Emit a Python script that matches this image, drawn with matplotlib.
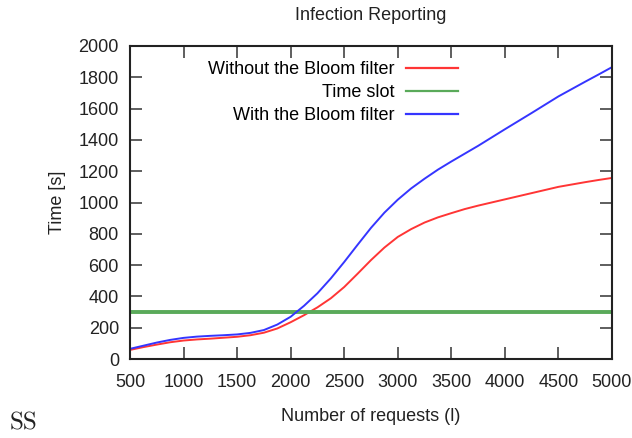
import matplotlib

matplotlib.use("Agg")
import matplotlib.pyplot as plt

# number of requests (l)
requests = [500, 625, 750, 875, 1000, 1125, 1250, 1375, 1500, 1625,
            1750, 1875, 2000, 2125, 2250, 2375, 2500, 2625, 2750, 2875,
            3000, 3125, 3250, 3375, 3500, 3625, 3750, 3875, 4000, 4125,
            4250, 4375, 4500, 4625, 4750, 4875, 5000]

# time [s]
without_bloom = [58, 76, 92, 107, 118, 125, 130, 136, 142, 152,
                 168, 195, 235, 280, 330, 388, 460, 545, 632, 712,
                 780, 830, 872, 905, 932, 958, 980, 1000, 1020, 1040,
                 1060, 1080, 1100, 1115, 1130, 1144, 1157]
with_bloom = [65, 85, 105, 122, 135, 143, 148, 152, 157, 167,
              185, 220, 270, 340, 420, 515, 620, 730, 838, 935,
              1018, 1090, 1152, 1210, 1262, 1312, 1362, 1415, 1468, 1520,
              1572, 1625, 1678, 1725, 1772, 1818, 1865]
time_slot = 300

plt.rcParams["font.family"] = ["Liberation Sans", "DejaVu Sans"]
plt.rcParams["font.size"] = 13

fig = plt.figure(figsize=(6.32, 4.38), dpi=100)
ax = fig.add_axes([130 / 632, 1 - 359 / 438, 482 / 632, 313 / 438])

ax.plot(requests, without_bloom, color="#ff3535", lw=1.4, label="Without the Bloom filter")
ax.axhline(time_slot, color="#5aaa5a", lw=2.8, label="Time slot")
ax.plot(requests, with_bloom, color="#3535ff", lw=1.4, label="With the Bloom filter")

ax.set_xlim(500, 5000)
ax.set_ylim(0, 2000)
ax.set_xticks(range(500, 5001, 500))
ax.set_yticks(range(0, 2001, 200))

ax.tick_params(direction="in", length=8.5, width=1.1, top=True, right=True,
               colors="#333333", labelcolor="#222222")
ax.tick_params(axis="x", pad=11)
ax.tick_params(axis="y", pad=8)
for spine in ax.spines.values():
    spine.set_linewidth(1.5)
    spine.set_color("#222222")

ax.set_title("Infection Reporting", pad=19, fontsize=13, color="#222222")
ax.set_xlabel("Number of requests (l)", labelpad=12, color="#222222")
ax.set_ylabel("Time [s]", labelpad=9, color="#222222")

leg = ax.legend(loc="upper right", bbox_to_anchor=(328 / 482, 0.952), frameon=False,
                markerfirst=False, handlelength=2.9, handletextpad=0.6,
                labelspacing=0.33, borderaxespad=0.0, borderpad=0.0,
                alignment="right")
for line in leg.get_lines():
    line.set_linewidth(1.6)

fig.text(10 / 632, 1 - 423 / 438, "SS", family=["cmr10", "DejaVu Serif"], fontsize=18,
         va="center", color="#222222")

fig.savefig("out.png", dpi=100)
